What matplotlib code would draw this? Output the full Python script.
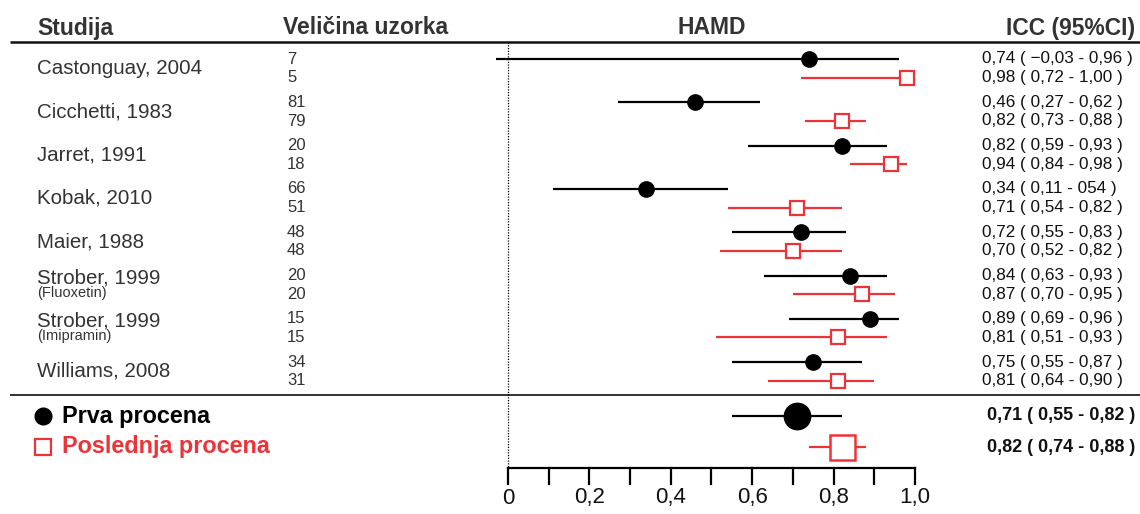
import numpy as np
import matplotlib
matplotlib.use("Agg")
import matplotlib.pyplot as plt
from matplotlib.transforms import blended_transform_factory

plt.rcParams['font.family'] = ['Liberation Sans', 'DejaVu Sans']

# data
studies = ["Castonguay, 2004", "Cicchetti, 1983", "Jarret, 1991", "Kobak, 2010",
           "Maier, 1988", "Strober, 1999", "Strober, 1999", "Williams, 2008"]
notes = ["", "", "", "", "", "(Fluoxetin)", "(Imipramin)", ""]
n_first = [7, 81, 20, 66, 48, 20, 15, 34]
n_last = [5, 79, 18, 51, 48, 20, 15, 31]

icc_first = [0.74, 0.46, 0.82, 0.34, 0.72, 0.84, 0.89, 0.75]
lo_first = [-0.03, 0.27, 0.59, 0.11, 0.55, 0.63, 0.69, 0.55]
hi_first = [0.96, 0.62, 0.93, 0.54, 0.83, 0.93, 0.96, 0.87]
icc_last = [0.98, 0.82, 0.94, 0.71, 0.70, 0.87, 0.81, 0.81]
lo_last = [0.72, 0.73, 0.84, 0.54, 0.52, 0.70, 0.51, 0.64]
hi_last = [1.00, 0.88, 0.98, 0.82, 0.82, 0.95, 0.93, 0.90]

txt_first = ["0,74 ( \u22120,03 - 0,96 )", "0,46 ( 0,27 - 0,62 )", "0,82 ( 0,59 - 0,93 )",
             "0,34 ( 0,11 - 054 )", "0,72 ( 0,55 - 0,83 )", "0,84 ( 0,63 - 0,93 )",
             "0,89 ( 0,69 - 0,96 )", "0,75 ( 0,55 - 0,87 )"]
txt_last = ["0,98 ( 0,72 - 1,00 )", "0,82 ( 0,73 - 0,88 )", "0,94 ( 0,84 - 0,98 )",
            "0,71 ( 0,54 - 0,82 )", "0,70 ( 0,52 - 0,82 )", "0,87 ( 0,70 - 0,95 )",
            "0,81 ( 0,51 - 0,93 )", "0,81 ( 0,64 - 0,90 )"]

pool_first = (0.71, 0.55, 0.82)
pool_last = (0.82, 0.74, 0.88)
pool_txt = ["0,71 ( 0,55 - 0,82 )", "0,82 ( 0,74 - 0,88 )"]

ticks = np.arange(0, 1.01, 0.1)
ticklabels = ["0", "", "0,2", "", "0,4", "", "0,6", "", "0,8", "", "1,0"]

RED = '#ee3338'
DARK = '#333333'

W, H = 1140, 514
fig = plt.figure(figsize=(W / 100, H / 100), dpi=100)
ax = fig.add_axes([0, 0, 1, 1])
x0, unit = 508, 407
ax.set_xlim(-x0 / unit, (W - x0) / unit)
ax.set_ylim(H, 0)
ax.axis('off')
tr = blended_transform_factory(ax.transAxes, ax.transData)

def fx(px):
    return px / W

# header
hs = 16.5
ax.text(fx(37), 28, "Studija", transform=tr, fontsize=hs, fontweight='bold', color=DARK, va='center')
ax.text(fx(283), 28, "Veli\u010dina uzorka", transform=tr, fontsize=hs, fontweight='bold', color=DARK, va='center')
ax.text(0.5, 28, "HAMD", fontsize=hs, fontweight='bold', color=DARK, va='center', ha='center')
ax.text(fx(1135), 28, "ICC (95%CI)", transform=tr, fontsize=hs, fontweight='bold', color=DARK, va='center', ha='right')
ax.plot([fx(10), 1], [42, 42], transform=tr, color='#111111', lw=1.8, solid_capstyle='butt')
ax.plot([fx(10), 1], [395, 395], transform=tr, color='#333333', lw=1.4, solid_capstyle='butt')

# zero reference line
ax.plot([0, 0], [42, 468], color='black', lw=0.9, ls=(0, (1, 1.2)))

row0, step, gap = 59, 43.3, 18.7
for i in range(len(studies)):
    yb = row0 + i * step
    yr = yb + gap
    if notes[i]:
        ax.text(fx(37), yb + 2, studies[i], transform=tr, fontsize=14.8, color=DARK, va='center')
        ax.text(fx(37), yb + 17, notes[i], transform=tr, fontsize=10.5, color=DARK, va='center')
    else:
        ax.text(fx(37), (yb + yr) / 2, studies[i], transform=tr, fontsize=14.8, color=DARK, va='center')
    ax.text(fx(287), yb, str(n_first[i]), transform=tr, fontsize=12, color=DARK, va='center')
    ax.text(fx(287), yr, str(n_last[i]), transform=tr, fontsize=12, color=DARK, va='center')

    ax.plot([lo_first[i], hi_first[i]], [yb, yb], color='black', lw=1.6, solid_capstyle='butt')
    ax.plot(icc_first[i], yb, 'o', color='black', ms=11)
    ax.plot([lo_last[i], hi_last[i]], [yr, yr], color=RED, lw=1.6, solid_capstyle='butt')
    ax.plot(icc_last[i], yr, 's', mfc='white', mec=RED, mew=1.6, ms=10.5)

    ax.text(fx(982), yb, txt_first[i], transform=tr, fontsize=12.3, color='#111111', va='center')
    ax.text(fx(982), yr, txt_last[i], transform=tr, fontsize=12.3, color='#111111', va='center')

# pooled
yp1, yp2 = 416, 447
ax.plot([pool_first[1], pool_first[2]], [yp1, yp1], color='black', lw=1.6, solid_capstyle='butt')
ax.plot(pool_first[0], yp1, 'o', color='black', ms=19)
ax.plot([pool_last[1], pool_last[2]], [yp2, yp2], color=RED, lw=1.6, solid_capstyle='butt')
ax.plot(pool_last[0], yp2, 's', mfc='white', mec=RED, mew=1.8, ms=18)
ax.text(fx(1135), yp1, pool_txt[0], transform=tr, fontsize=13, fontweight='bold', color='#111111', va='center', ha='right')
ax.text(fx(1135), yp2, pool_txt[1], transform=tr, fontsize=13, fontweight='bold', color='#111111', va='center', ha='right')

# legend
ax.plot(fx(43), yp1, 'o', transform=tr, color='black', ms=12)
ax.text(fx(62), yp1, "Prva procena", transform=tr, fontsize=16.8, fontweight='bold', color='black', va='center')
ax.plot(fx(43), yp2, 's', transform=tr, mfc='white', mec=RED, mew=1.6, ms=11)
ax.text(fx(62), yp2, "Poslednja procena", transform=tr, fontsize=16.8, fontweight='bold', color=RED, va='center')

# x axis
ax.plot([0, 1], [468, 468], color='black', lw=1.6, solid_capstyle='projecting')
for t, lab in zip(ticks, ticklabels):
    ax.plot([t, t], [468, 484], color='black', lw=1.6)
    if lab:
        ax.text(t, 498, lab, fontsize=16, ha='center', va='center', color='#111111')

fig.savefig("out.png", dpi=100)
